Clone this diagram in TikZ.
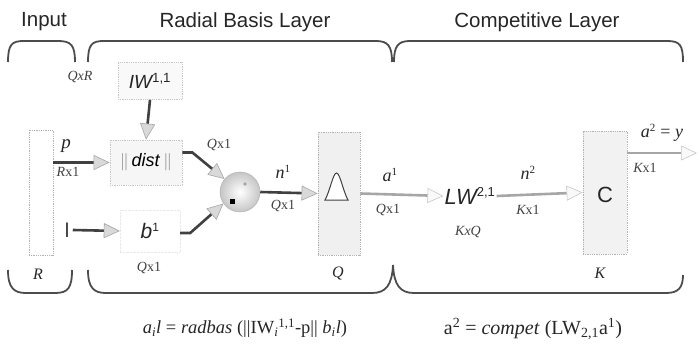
\documentclass[tikz,border=0pt]{standalone}
\usepackage{fontspec}
\setmainfont{Liberation Serif}
\setsansfont{Liberation Sans}
\usetikzlibrary{arrows.meta,calc}
\tikzset{
  brace/.style={draw=gray!60!black,line width=1.8pt},
  title/.style={font=\sffamily\fontsize{20.5}{21}\selectfont,text=black!85},
  dim/.style={font=\itshape\fontsize{14}{15}\selectfont,text=black!75,inner sep=1pt},
  big/.style={font=\itshape\fontsize{16}{17}\selectfont,text=black!85,inner sep=1pt},
  blocklbl/.style={font=\sffamily\itshape\fontsize{20}{21}\selectfont,text=black!85,inner sep=1pt},
  vbox/.style={draw=gray!60,densely dotted,line width=0.8pt,inner sep=0pt},
  conn/.style={draw=black!75,line width=2.6pt},
  connr/.style={draw=gray!70,line width=2.6pt},
  tipL/.style={-{Triangle[width=15pt,length=16pt,fill=gray!30,color=gray!70,line width=0.6pt]}},
  tipR/.style={-{Triangle[width=15pt,length=16pt,fill=gray!5,color=gray!45,line width=0.6pt]}},
  formula/.style={font=\fontsize{18.5}{19}\selectfont,text=black!85,inner sep=0pt}
}
\begin{document}
\begin{tikzpicture}[x=1pt,y=-1pt]
\useasboundingbox (0,0) rectangle (699,345);
% titles
\node[title] (tIn) at (44,22) {Input};
\node[title] (tRad) at (245,22) {Radial Basis Layer};
\node[title] (tCom) at (537,22) {Competitive Layer};
% top braces
\draw[brace] (8,62) .. controls (8,44) and (12,41) .. (24,41) -- (58,41) .. controls (71,41) and (75,45) .. (75,62);
\draw[brace] (88,62) .. controls (88,44) and (92,41) .. (104,41) -- (376,41) .. controls (388,41) and (392,46) .. (392,62);
\draw[brace] (394,62) .. controls (394,46) and (398,41) .. (410,41) -- (667,41) .. controls (680,41) and (683,45) .. (683,62);
% bottom braces
\draw[brace] (8,270) .. controls (8,288) and (14,293) .. (26,293) -- (55,293) .. controls (68,293) and (72,288) .. (72,270);
\draw[brace] (88,270) .. controls (88,288) and (94,293) .. (106,293) -- (372,293) .. controls (386,293) and (392,285) .. (393,265);
\draw[brace] (393,265) .. controls (394,285) and (400,293) .. (414,293) -- (666,293) .. controls (678,293) and (683,288) .. (683,275);
% input box
\node[vbox,fill=white,minimum width=24pt,minimum height=125pt] (Rbox) at (41,192.5) {};
\node[big] (Rl) at (38,274) {R};
% IW box
\node[vbox,draw=gray!45,fill=gray!5,minimum width=64pt,minimum height=37pt] (IW) at (150,81) {};
\node[blocklbl,font=\sffamily\itshape\fontsize{19}{20}\selectfont] (IWt) at (IW.center) {IW\textsuperscript{\upshape 1,1}};
\node[dim] (QxR) at (80,77) {QxR};
% dist box
\node[vbox,draw=gray!45,fill=gray!7,minimum width=72pt,minimum height=45pt] (dist) at (146,162.5) {\sffamily\fontsize{18}{19}\selectfont{\color{gray}$\|$}\,\textit{dist}\,{\color{gray}$\|$}};
% b box
\node[draw=gray!18,densely dotted,minimum width=60pt,minimum height=42pt,font=\sffamily\itshape\fontsize{21}{22}\selectfont,text=black!85,inner sep=0pt] (b) at (150,231) {b\textsuperscript{\upshape\fontsize{12}{12}\selectfont 1}};
\node[font=\sffamily\fontsize{20}{21}\selectfont,text=black!80] (one) at (67,230) {l};
\node[dim] (bQ) at (149,268) {Q\upshape x1};
% sum
\node[circle,draw=gray!60,line width=0.5pt,minimum size=40pt,inner sep=0pt,shading=radial,inner color=white,outer color=gray!45] (sum) at (240,192) {};
\fill[gray!70] (245,184) circle (1.8pt);
\fill[black] (229.5,198.5) rectangle (234.5,203.5);
% Q box
\node[vbox,fill=gray!12,minimum width=42pt,minimum height=123pt] (Qbox) at (339,193.5) {};
\draw[black!75,line width=1pt,fill=white] (325,200) .. controls (330,191) and (333,173) .. (336.5,173) .. controls (340,173) and (343,191) .. (348,200) -- cycle;
\node[big] (Ql) at (338,273) {Q};
% LW
\node[blocklbl,font=\sffamily\itshape\fontsize{22}{23}\selectfont] (LW) at (470,196) {LW\textsuperscript{\upshape\fontsize{13}{13}\selectfont 2,1}};
\node[dim] (KxQ) at (468,232) {KxQ};
% C box
\node[vbox,fill=gray!10,minimum width=44pt,minimum height=123pt] (Cbox) at (605,192.5) {};
\node[font=\sffamily\fontsize{22}{23}\selectfont,text=black!85] (Ct) at (605,195) {C};
\node[big] (Kl) at (600,273) {K};
\coordinate (out) at (697,153);
% connectors
\draw[conn,tipL] (Rbox.east |- dist.west) -- (dist.west);
\node[big,font=\itshape\fontsize{19}{20}\selectfont] (pl) at (66,146) {p};
\node[dim] (Rx1) at (68,172) {R\upshape x1};
\draw[conn,tipL] (IW.south) -- (dist.north);
\draw[conn,tipL] ([yshift=10pt]dist.east) -- ++(10,0) -- (sum.140);
\node[dim] (dQ) at (219,145) {Q\upshape x1};
\draw[conn,tipL] (one.east) -- (b.west);
\draw[conn,tipL] ([yshift=-2pt]b.east) -- ++(10,0) -- (sum.215);
\draw[conn,tipL] (sum.east) -- (Qbox.west);
\node[big,font=\itshape\fontsize{18}{19}\selectfont] (n1) at (283,172) {n\textsuperscript{\upshape\fontsize{11}{11}\selectfont 1}};
\node[dim] (n1d) at (283,206) {Q\upshape x1};
\draw[connr,tipR] (Qbox.east) -- (LW.west);
\node[big,font=\itshape\fontsize{18}{19}\selectfont] (a1) at (390,175) {a\textsuperscript{\upshape\fontsize{11}{11}\selectfont 1}};
\node[dim] (a1d) at (388,210) {Q\upshape x1};
\draw[connr,tipR] (LW.east) -- (Cbox.west);
\node[big,font=\itshape\fontsize{18}{19}\selectfont] (n2) at (528,173) {n\textsuperscript{\upshape\fontsize{11}{11}\selectfont 2}};
\node[dim] (n2d) at (528,210) {K\upshape x1};
\draw[connr,tipR] (Cbox.east |- out) -- (out);
\node[big,font=\itshape\fontsize{18}{19}\selectfont] (a2) at (662,133) {a\textsuperscript{\upshape\fontsize{11}{11}\selectfont 2}\upshape\ = \itshape y};
\node[dim] (a2d) at (645,168) {K\upshape x1};
% formulas
\node[formula] (f1) at (245,328) {\textit{a\textsubscript{i}l} = \textit{radbas} (||IW\textsubscript{\textit{i}}\textsuperscript{1,1}-p|| \textit{b\textsubscript{i}l})};
\node[formula,font=\fontsize{20}{21}\selectfont,text=black!85] (f2) at (533,329) {a\textsuperscript{2} = \textit{compet} (LW\textsubscript{2,1}a\textsuperscript{1})};
\end{tikzpicture}
\end{document}
